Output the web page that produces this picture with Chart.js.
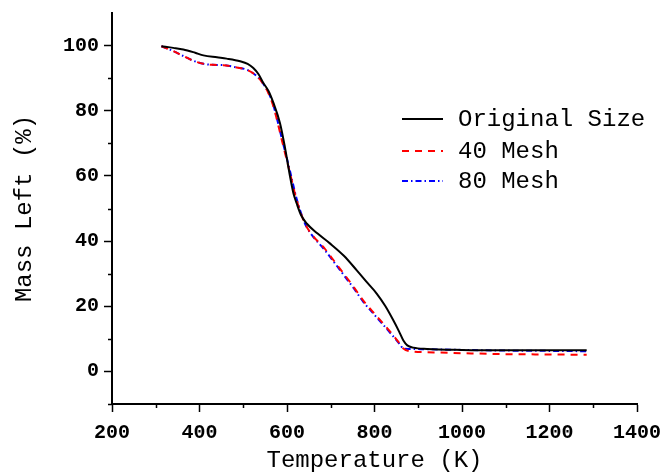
<!DOCTYPE html>
<html>
<head>
<meta charset="utf-8">
<script src="https://cdn.jsdelivr.net/npm/chart.js@4/dist/chart.umd.min.js"></script>
<style>
html, body { margin: 0; padding: 0; background: #fff; }
#wrap { width: 666px; height: 475px; }
</style>
</head>
<body>
<div id="wrap"><canvas id="tgaChart"></canvas></div>
<script>
// values
const origTemps = [313, 340, 363, 390, 409, 440, 462, 493, 510, 523, 535, 546, 558, 569, 584, 595, 607, 615, 622, 632, 645, 670, 698, 730, 759, 785, 805, 825, 843, 856, 866, 875, 889, 920, 1000, 1100, 1200, 1285];
const origMass  = [99.8, 99.3, 98.8, 97.8, 97.0, 96.4, 96.0, 95.2, 94.4, 93.1, 91.2, 88.5, 86.0, 82.4, 76.2, 69.0, 59.8, 54.5, 51.6, 48.0, 45.4, 42.3, 39.3, 35.5, 31.1, 27.0, 23.9, 20.0, 15.7, 12.3, 9.5, 8.0, 7.3, 6.9, 6.6, 6.5, 6.5, 6.5];

const meshTemps  = [313, 340, 363, 385, 409, 430, 454, 485, 508, 531, 546, 558, 569, 588, 607, 622, 641, 660, 683, 706, 729, 752, 774, 797, 820, 840, 858, 866, 880, 920, 1000, 1100, 1200, 1285];
const mesh40Mass = [99.8, 98.3, 96.8, 95.4, 94.4, 94.1, 94.0, 93.3, 92.6, 90.6, 88.2, 85.3, 81.3, 71.1, 60.8, 52.6, 45.4, 41.5, 38.2, 34.2, 30.1, 26.0, 21.8, 18.2, 14.7, 11.5, 8.5, 7.0, 6.2, 5.9, 5.6, 5.3, 5.2, 5.1];
const mesh80Mass = [99.8, 98.3, 96.8, 95.4, 94.4, 94.1, 94.0, 93.3, 92.6, 90.6, 88.2, 85.5, 81.6, 71.6, 61.4, 53.0, 45.4, 41.3, 37.8, 33.8, 29.7, 25.6, 21.4, 17.8, 14.3, 11.2, 8.3, 7.0, 6.9, 6.8, 6.6, 6.4, 6.3, 6.2];

const seriesLabels = ['Original Size', '40 Mesh', '80 Mesh'];
const xMajorTicks = [200, 400, 600, 800, 1000, 1200, 1400];
const xMinorTicks = [300, 500, 700, 900, 1100, 1300];
const yMajorTicks = [0, 20, 40, 60, 80, 100];
const yMinorTicks = [-10, 10, 30, 50, 70, 90];

const monoFont = "'Liberation Mono', 'DejaVu Sans Mono', monospace";

function toPoints(xs, ys) {
    return xs.map((x, i) => ({ x: x, y: ys[i] }));
}

const minorTicks = {
    id: 'minorTicks',
    afterDraw(chart) {
        const ctx = chart.ctx;
        const xs = chart.scales.x, ys = chart.scales.y;
        ctx.save();
        ctx.strokeStyle = '#000';
        ctx.lineWidth = 1.5;
        ctx.beginPath();
        xMinorTicks.forEach(v => {
            const px = Math.round(xs.getPixelForValue(v)) + 0.5;
            ctx.moveTo(px, xs.top);
            ctx.lineTo(px, xs.top + 4);
        });
        yMinorTicks.forEach(v => {
            const py = Math.round(ys.getPixelForValue(v)) + 0.5;
            ctx.moveTo(ys.right, py);
            ctx.lineTo(ys.right - 4, py);
        });
        ctx.stroke();
        ctx.restore();
    }
};

const innerLegend = {
    id: 'innerLegend',
    afterDraw(chart) {
        const ctx = chart.ctx;
        ctx.save();
        ctx.font = '24px ' + monoFont;
        ctx.textBaseline = 'middle';
        ctx.fillStyle = '#000';
        const rows = [119, 151, 181];
        chart.data.datasets.forEach((ds, i) => {
            ctx.strokeStyle = ds.borderColor;
            ctx.lineWidth = ds.borderWidth;
            ctx.setLineDash(ds.borderDash || []);
            ctx.beginPath();
            ctx.moveTo(402, rows[i]);
            ctx.lineTo(443, rows[i]);
            ctx.stroke();
            ctx.fillText(ds.label, 458, rows[i] + 1);
        });
        ctx.restore();
    }
};

const ctx = document.getElementById('tgaChart').getContext('2d');
new Chart(ctx, {
    type: 'line',
    data: {
        datasets: [{
            label: seriesLabels[0],
            data: toPoints(origTemps, origMass),
            borderColor: '#000000',
            borderWidth: 2,
            pointRadius: 0,
            cubicInterpolationMode: 'monotone'
        }, {
            label: seriesLabels[1],
            data: toPoints(meshTemps, mesh40Mass),
            borderColor: '#ff0000',
            borderWidth: 2,
            borderDash: [7, 6],
            pointRadius: 0,
            cubicInterpolationMode: 'monotone'
        }, {
            label: seriesLabels[2],
            data: toPoints(meshTemps, mesh80Mass),
            borderColor: '#0000ff',
            borderWidth: 2,
            borderDash: [6, 3, 1.5, 3],
            pointRadius: 0,
            cubicInterpolationMode: 'monotone'
        }]
    },
    options: {
        responsive: true,
        maintainAspectRatio: false,
        animation: false,
        layout: { padding: { top: 13, right: 29, left: 0, bottom: 0 } },
        plugins: {
            legend: { display: false },
            tooltip: { enabled: false }
        },
        scales: {
            x: {
                type: 'linear',
                min: 200,
                max: 1400,
                afterBuildTicks: s => { s.ticks = xMajorTicks.map(v => ({ value: v })); },
                afterFit: s => { s.height = 71; s.paddingLeft = 0; s.paddingRight = 0; },
                border: { color: '#000', width: 2 },
                grid: { drawOnChartArea: false, tickLength: 8, color: '#000', tickWidth: 1.5 },
                ticks: {
                    color: '#000',
                    padding: 9,
                    maxRotation: 0,
                    callback: v => String(v),
                    font: { family: monoFont, size: 20, weight: 'bold' }
                },
                title: {
                    display: true,
                    text: 'Temperature (K)',
                    color: '#000',
                    padding: { top: 0, bottom: 0 },
                    font: { family: monoFont, size: 24 }
                }
            },
            y: {
                type: 'linear',
                min: -10,
                max: 110,
                afterBuildTicks: s => { s.ticks = yMajorTicks.map(v => ({ value: v })); },
                afterFit: s => { s.width = 112; s.paddingTop = 0; s.paddingBottom = 0; },
                border: { color: '#000', width: 2 },
                grid: { drawOnChartArea: false, tickLength: 8, color: '#000', tickWidth: 1.5 },
                ticks: {
                    color: '#000',
                    padding: 5,
                    callback: v => String(v),
                    font: { family: monoFont, size: 20, weight: 'bold' }
                },
                title: {
                    display: true,
                    text: 'Mass Left (%)',
                    color: '#000',
                    padding: { top: 10, bottom: 0 },
                    font: { family: monoFont, size: 24 }
                }
            }
        }
    },
    plugins: [minorTicks, innerLegend]
});
</script>
</body>
</html>
